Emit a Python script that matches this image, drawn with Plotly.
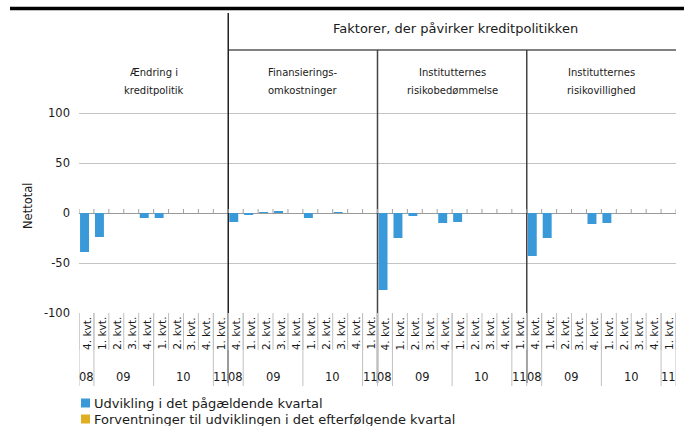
import plotly.graph_objects as go

# ---------------- data ----------------
panel_titles = [
    ["Ændring i", "kreditpolitik"],
    ["Finansierings-", "omkostninger"],
    ["Institutternes", "risikobedømmelse"],
    ["Institutternes", "risikovillighed"],
]
header_title = "Faktorer, der påvirker kreditpolitikken"
quarters = ["4. kvt.", "1. kvt.", "2. kvt.", "3. kvt.", "4. kvt.",
            "1. kvt.", "2. kvt.", "3. kvt.", "4. kvt.", "1. kvt."]
years = ["08", "09", "09", "09", "09", "10", "10", "10", "10", "11"]

udvikling_kreditpolitik = [-39, -24, 0, 0, -5, -5, 0, 0, 0, 0]
udvikling_finansiering = [-9, -2, 1, 2, 0, -5, 0, 1, 0, 0]
udvikling_risikobedoemmelse = [-77, -25, -3, 0, -10, -9, 0, 0, 0, 0]
udvikling_risikovillighed = [-43, -25, 0, 0, -11, -10, 0, 0, 0, 0]
forventninger_kreditpolitik = [None] * 10
forventninger_finansiering = [None] * 10
forventninger_risikobedoemmelse = [None] * 10
forventninger_risikovillighed = [None] * 10

series_names = ["Udvikling i det pågældende kvartal",
                "Forventninger til udviklingen i det efterfølgende kvartal"]
y_ticks = [-100, -50, 0, 50, 100]
y_ticktext = ["-100", "-50", "0", "50", "100"]
y_title = "Nettotal"

# ---------------- build ----------------
udvikling = (udvikling_kreditpolitik + udvikling_finansiering +
             udvikling_risikobedoemmelse + udvikling_risikovillighed)
forventninger = (forventninger_kreditpolitik + forventninger_finansiering +
                 forventninger_risikobedoemmelse + forventninger_risikovillighed)
n_per = len(quarters)
n_pan = len(panel_titles)
N = n_per * n_pan
xpos = list(range(N))

BLUE = "#3a9ad9"
GOLD = "#e0ae22"
TXT = "#1a1a1a"
FONT = "DejaVu Sans"

W, H = 684, 426
L, R, T, B = 79, 676, 13, 313


def py(p):  # pixel y -> paper
    return (B - p) / (B - T)


def px(p):  # pixel x -> paper
    return (p - L) / (R - L)


fig = go.Figure()
fig.add_trace(go.Bar(x=xpos, y=udvikling, name=series_names[0], width=0.6, offset=-0.43,
                     marker=dict(color=BLUE, line=dict(width=0)), showlegend=False))
fig.add_trace(go.Bar(x=xpos, y=forventninger, name=series_names[1], width=0.3, offset=0.17,
                     marker=dict(color=GOLD, line=dict(width=0)), showlegend=False))

shapes = []
ann = []
# top thick rule
shapes.append(dict(type="line", xref="paper", yref="paper", x0=px(10), x1=px(684),
                   y0=py(8.5), y1=py(8.5), line=dict(color="black", width=3.5)))
# header underline
shapes.append(dict(type="line", xref="x", yref="paper", x0=n_per - 0.5, x1=N - 0.5 + 0.6,
                   y0=py(50), y1=py(50), line=dict(color="#808080", width=2)))
ann.append(dict(xref="x", yref="paper", x=(n_per - 0.5 + N - 0.5 + 0.5) / 2, y=py(28),
                xanchor="center", yanchor="middle",
                text=header_title, showarrow=False, font=dict(family=FONT, size=13, color=TXT)))
# panel dividers
for k in range(1, n_pan):
    xb = k * n_per - 0.5
    top = 13 if k == 1 else 50
    shapes.append(dict(type="line", xref="x", yref="paper", x0=xb, x1=xb,
                       y0=py(top), y1=py(383), line=dict(color="#222222" if k == 1 else "#444444", width=1.5)))
# panel titles
for k, lines in enumerate(panel_titles):
    xc = k * n_per + (n_per - 1) / 2
    for j, t in enumerate(lines):
        ann.append(dict(xref="x", yref="paper", x=xc, y=py(73 + 17 * j), text=t, showarrow=False,
                        xanchor="center", yanchor="middle",
                        font=dict(family=FONT, size=10, color=TXT)))
# small ticks on zero line and cell separators below
for i in range(N + 1):
    xb = i - 0.5
    shapes.append(dict(type="line", xref="x", yref="y", x0=xb, x1=xb, y0=0, y1=4,
                       line=dict(color="#a0a0a0", width=1)))
    shapes.append(dict(type="line", xref="x", yref="paper", x0=xb, x1=xb, y0=py(313), y1=py(350),
                       line=dict(color="#c0c0c0", width=1)))
# quarter labels
for k in range(n_pan):
    for i, q in enumerate(quarters):
        ann.append(dict(xref="x", yref="paper", x=k * n_per + i, y=py(315), text=q, textangle=-90,
                        showarrow=False, yanchor="top", xanchor="center",
                        font=dict(family=FONT, size=10.5, color=TXT)))
    # year groups
    start = 0
    for i in range(1, n_per + 1):
        if i == n_per or years[i] != years[start]:
            x0 = k * n_per + start - 0.5
            x1 = k * n_per + i - 0.5
            ann.append(dict(xref="x", yref="paper", x=(x0 + x1) / 2, y=py(377), text=years[start],
                            showarrow=False, xanchor="center", yanchor="middle",
                            font=dict(family=FONT, size=11.5, color=TXT)))
            shapes.append(dict(type="line", xref="x", yref="paper", x0=x0, x1=x0, y0=py(313), y1=py(386),
                               line=dict(color="#c0c0c0", width=1)))
            start = i
shapes.append(dict(type="line", xref="x", yref="paper", x0=N - 0.5, x1=N - 0.5, y0=py(313), y1=py(386),
                   line=dict(color="#c0c0c0", width=1)))
# y title
ann.append(dict(xref="paper", yref="paper", x=px(28), y=py(206), text=y_title, textangle=-90,
                xanchor="center", yanchor="middle",
                showarrow=False, font=dict(family=FONT, size=11.5, color=TXT)))
# custom legend
for j, (nm, col) in enumerate(zip(series_names, [BLUE, GOLD])):
    yc = 403 + 16 * j
    shapes.append(dict(type="rect", xref="paper", yref="paper", x0=px(81), x1=px(90),
                       y0=py(yc - 4.5), y1=py(yc + 4.5), fillcolor=col, line=dict(width=0)))
    ann.append(dict(xref="paper", yref="paper", x=px(92), y=py(yc), text=nm, showarrow=False,
                    xanchor="left", yanchor="middle", font=dict(family=FONT, size=13, color=TXT)))

fig.update_layout(
    width=W, height=H,
    margin=dict(l=L, r=W - R, t=T, b=H - B),
    plot_bgcolor="white", paper_bgcolor="white",
    barmode="overlay", showlegend=False,
    font=dict(family=FONT, size=11, color=TXT),
    shapes=shapes, annotations=ann,
    xaxis=dict(range=[-0.5, N - 0.5], showticklabels=False, showgrid=False, zeroline=False,
               showline=False, ticks=""),
    yaxis=dict(range=[-100, 200], tickvals=y_ticks, ticktext=y_ticktext, showgrid=True,
               gridcolor="#c4c4c4", gridwidth=1,
               zeroline=True, zerolinecolor="#9a9a9a", zerolinewidth=1, showline=False, ticks="",
               ticklabelstandoff=8, tickfont=dict(family=FONT, size=11.5, color=TXT)),
)

fig.write_html("out.html", config={"displayModeBar": False},
               post_script="document.body.style.margin='0';document.body.style.padding='0';")
